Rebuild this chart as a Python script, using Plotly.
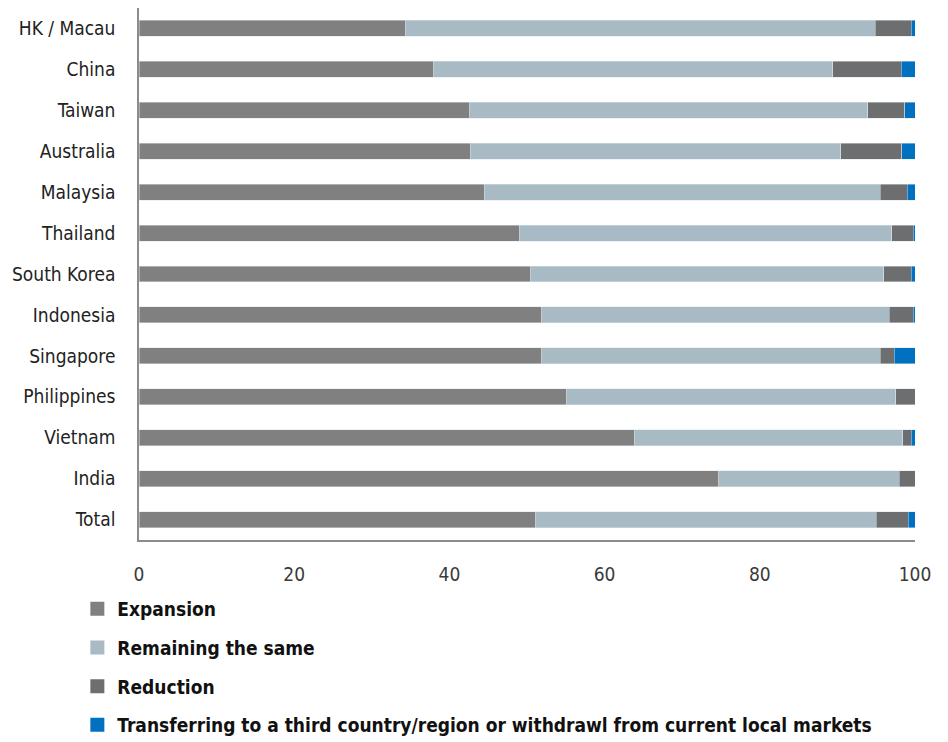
import plotly.graph_objects as go

categories = ["HK / Macau", "China", "Taiwan", "Australia", "Malaysia", "Thailand",
              "South Korea", "Indonesia", "Singapore", "Philippines", "Vietnam", "India", "Total"]
expansion = [34.3, 38.0, 42.6, 42.7, 44.5, 49.0, 50.5, 51.9, 51.9, 55.1, 63.8, 74.7, 51.1]
remaining = [60.6, 51.4, 51.3, 47.7, 51.0, 48.0, 45.5, 44.8, 43.6, 42.4, 34.6, 23.3, 43.9]
reduction = [4.6, 8.8, 4.8, 7.9, 3.5, 2.8, 3.5, 3.1, 1.8, 2.5, 1.1, 2.0, 4.1]
transfer = [0.5, 1.8, 1.3, 1.7, 1.0, 0.2, 0.5, 0.3, 2.7, 0.0, 0.5, 0.0, 0.9]
x_ticks = [0, 20, 40, 60, 80, 100]

series = [
    ("Expansion", expansion, "#808080"),
    ("Remaining the same", remaining, "#a8bbc4"),
    ("Reduction", reduction, "#6d6e70"),
    ("Transferring to a third country/region or withdrawl from current local markets", transfer, "#0070c0"),
]

FONT = "DejaVu Sans Condensed, Liberation Sans Narrow, DejaVu Sans, sans-serif"

fig = go.Figure()
for i, (name, vals, color) in enumerate(series):
    fig.add_trace(go.Bar(
        y=categories, x=vals, name=name, orientation="h",
        marker=dict(color=color, line=dict(color="rgba(220,228,232,0.8)", width=0.6)),
        legendgroup=f"g{i}", showlegend=False,
    ))
    # legend entry with a larger square swatch
    fig.add_trace(go.Scatter(
        x=[None], y=[None], mode="markers", name=name,
        marker=dict(symbol="square", size=14, color=color),
        legendgroup=f"g{i}", showlegend=True, hoverinfo="skip",
    ))

fig.update_layout(
    barmode="stack",
    bargap=0.61,
    width=948, height=742,
    margin=dict(l=139, r=33, t=8, b=202, autoexpand=False),
    paper_bgcolor="white", plot_bgcolor="white",
    font=dict(family=FONT, size=19, color="#222222"),
    showlegend=True,
    legend=dict(
        xref="container", yref="container",
        x=0.0816, y=0.205, xanchor="left", yanchor="top",
        traceorder="grouped", tracegroupgap=11,
        font=dict(family=FONT, size=19, color="#111111", weight="bold"),
    ),
    xaxis=dict(
        range=[0, 100], tickvals=x_ticks, showgrid=False, zeroline=False,
        showline=True, linecolor="#8c8c8c", linewidth=2,
        ticks="outside", ticklen=16, tickcolor="rgba(0,0,0,0)",
        tickfont=dict(family=FONT, size=19, color="#3a3a3a"),
        automargin=False,
    ),
    yaxis=dict(
        autorange="reversed", showgrid=False, zeroline=False,
        showline=True, linecolor="#8c8c8c", linewidth=1.5,
        ticks="outside", ticklen=18, tickcolor="rgba(0,0,0,0)",
        tickfont=dict(family=FONT, size=19, color="#222222"),
        automargin=False,
    ),
)

fig.write_html("out.html")
